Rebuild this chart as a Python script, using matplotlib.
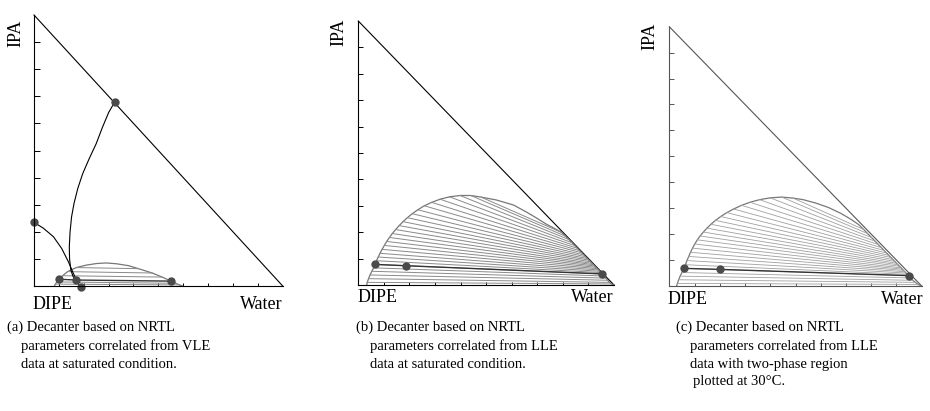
import numpy as np
import matplotlib
matplotlib.use('Agg')
import matplotlib.pyplot as plt

plt.rcParams['font.family'] = ['Liberation Serif', 'DejaVu Serif']

W, H = 930, 411

# ---- panel (a): NRTL from VLE data ----
a_bin_x = [0.082, 0.086, 0.092, 0.099, 0.115, 0.135, 0.170, 0.210, 0.252, 0.290,
           0.332, 0.380, 0.420, 0.475, 0.515, 0.551, 0.570, 0.585, 0.598]
a_bin_y = [0.000, 0.007, 0.015, 0.025, 0.038, 0.053, 0.068, 0.077, 0.083, 0.085,
           0.082, 0.075, 0.064, 0.048, 0.033, 0.018, 0.010, 0.004, 0.000]
a_tie_lx = [0.170, 0.135, 0.115, 0.092, 0.086]
a_tie_ly = [0.068, 0.053, 0.038, 0.015, 0.007]
a_tie_rx = [0.420, 0.475, 0.515, 0.570, 0.585]
a_tie_ry = [0.064, 0.048, 0.033, 0.010, 0.004]
a_curve1_x = [0.324, 0.300, 0.275, 0.250, 0.222, 0.196, 0.176, 0.161, 0.151, 0.145,
              0.142, 0.143, 0.148, 0.157, 0.170]
a_curve1_y = [0.678, 0.640, 0.585, 0.525, 0.470, 0.415, 0.360, 0.305, 0.255, 0.200,
              0.145, 0.100, 0.060, 0.035, 0.021]
a_curve2_x = [0.000, 0.038, 0.078, 0.111, 0.138, 0.158, 0.178, 0.189]
a_curve2_y = [0.235, 0.213, 0.182, 0.139, 0.090, 0.047, 0.010, -0.005]
a_dark_x = [0.099, 0.170, 0.551]
a_dark_y = [0.025, 0.022, 0.018]
a_pts_x = [0.324, 0.000, 0.099, 0.170, 0.551, 0.189]
a_pts_y = [0.678, 0.235, 0.025, 0.022, 0.018, -0.005]

# ---- panel (b): NRTL from LLE data ----
b_low_lx = [0.035, 0.040, 0.046, 0.053, 0.060]
b_low_ly = [0.010, 0.024, 0.038, 0.052, 0.065]
b_low_rx = [0.990, 0.982, 0.975, 0.968, 0.961]
b_low_ry = [0.004, 0.010, 0.018, 0.026, 0.034]
b_up_lx = [0.071, 0.078, 0.085, 0.093, 0.102, 0.111, 0.122, 0.133, 0.146, 0.160, 0.175,
           0.192, 0.211, 0.233, 0.258, 0.287, 0.320, 0.357, 0.398, 0.440, 0.480]
b_up_ly = [0.092, 0.106, 0.120, 0.135, 0.150, 0.165, 0.180, 0.195, 0.210, 0.225, 0.240,
           0.255, 0.270, 0.285, 0.300, 0.313, 0.325, 0.334, 0.339, 0.339, 0.333]
b_up_rx = [0.949, 0.944, 0.939, 0.934, 0.929, 0.924, 0.919, 0.914, 0.908, 0.902, 0.896,
           0.889, 0.882, 0.874, 0.866, 0.857, 0.847, 0.836, 0.824, 0.810, 0.795]
b_up_ry = [0.047, 0.052, 0.057, 0.062, 0.067, 0.072, 0.077, 0.082, 0.088, 0.094, 0.100,
           0.107, 0.114, 0.122, 0.130, 0.139, 0.149, 0.160, 0.172, 0.185, 0.199]
b_top_x = [0.540, 0.607, 0.660, 0.700, 0.736, 0.768]
b_top_y = [0.322, 0.303, 0.275, 0.252, 0.230, 0.214]
b_end_x = [0.033, 1.0]
b_dark_x = [0.065, 0.186, 0.954]
b_dark_y = [0.078, 0.073, 0.042]

# ---- panel (c): NRTL from LLE data, two-phase region at 30 C ----
c_low_lx = [0.032, 0.037, 0.043, 0.050]
c_low_ly = [0.010, 0.024, 0.038, 0.052]
c_low_rx = [0.985, 0.975, 0.965, 0.956]
c_low_ry = [0.006, 0.014, 0.022, 0.031]
c_up_lx = [0.064, 0.070, 0.077, 0.084, 0.092, 0.101, 0.111, 0.122, 0.135, 0.149, 0.165,
           0.183, 0.204, 0.228, 0.255, 0.286, 0.320, 0.358, 0.400, 0.445, 0.490]
c_up_ly = [0.082, 0.098, 0.114, 0.130, 0.146, 0.162, 0.178, 0.193, 0.208, 0.223, 0.238,
           0.253, 0.268, 0.283, 0.297, 0.311, 0.323, 0.333, 0.340, 0.343, 0.339]
c_up_rx = [0.943, 0.938, 0.933, 0.928, 0.923, 0.918, 0.912, 0.906, 0.900, 0.893, 0.886,
           0.878, 0.870, 0.861, 0.851, 0.840, 0.828, 0.815, 0.801, 0.786, 0.770]
c_up_ry = [0.045, 0.050, 0.055, 0.060, 0.065, 0.070, 0.076, 0.082, 0.088, 0.095, 0.102,
           0.110, 0.118, 0.127, 0.137, 0.148, 0.160, 0.173, 0.187, 0.202, 0.218]
c_top_x = [0.530, 0.580, 0.630, 0.680, 0.720, 0.750]
c_top_y = [0.333, 0.320, 0.303, 0.280, 0.257, 0.237]
c_end_x = [0.029, 1.0]
c_dark_x = [0.059, 0.201, 0.948]
c_dark_y = [0.068, 0.064, 0.040]

captions = [
    ["(a) Decanter based on NRTL", "parameters correlated from VLE", "data at saturated condition."],
    ["(b) Decanter based on NRTL", "parameters correlated from LLE", "data at saturated condition."],
    ["(c) Decanter based on NRTL", "parameters correlated from LLE", "data with two-phase region",
     "plotted at 30°C."],
]

fig = plt.figure(figsize=(W / 100, H / 100), dpi=100)


def frame(left, right, top, bottom, axcol, ltick):
    ax = fig.add_axes([left / W, 1 - bottom / H, (right - left) / W, (bottom - top) / H])
    ax.set_xlim(0, 1)
    ax.set_ylim(0, 1)
    ax.patch.set_alpha(0)
    for s in ['top', 'right']:
        ax.spines[s].set_visible(False)
    for s in ['left', 'bottom']:
        ax.spines[s].set_color(axcol)
        ax.spines[s].set_linewidth(0.8)
    ax.set_xticks(np.arange(1, 10) / 10)
    ax.set_yticks(np.arange(1, 10) / 10)
    ax.tick_params(axis='y', direction='in', length=ltick, width=0.7, color=axcol,
                   labelleft=False)
    ax.tick_params(axis='x', direction='in', length=2.2, width=0.7, color=axcol,
                   labelbottom=False)
    ax.plot([0, 1], [1, 0], color=axcol, lw=0.8, clip_on=False)
    return ax


def lle_panel(ax, low_lx, low_ly, low_rx, low_ry, up_lx, up_ly, up_rx, up_ry,
              top_x, top_y, end_x, dark_x, dark_y, tcol, tlw):
    lx = low_lx + dark_x[:1] + up_lx
    ly = low_ly + dark_y[:1] + up_ly
    rx = low_rx + dark_x[-1:] + up_rx
    ry = low_ry + dark_y[-1:] + up_ry
    bx = end_x[:1] + lx + top_x + rx[::-1] + end_x[1:]
    by = [0] + ly + top_y + ry[::-1] + [0]
    ax.plot(bx, by, color='#777777', lw=0.9, clip_on=False)
    for i in range(len(lx)):
        ax.plot([lx[i], rx[i]], [ly[i], ry[i]], color=tcol, lw=tlw, clip_on=False)
    ax.plot(dark_x, dark_y, color='#333333', lw=1.0, clip_on=False)
    ax.plot(dark_x, dark_y, 'o', color='#4a4a4a', ms=6, mec='none', clip_on=False)


# panel (a)
ax = frame(34, 282.7, 15, 286, 'black', 4.3)
ax.plot(a_bin_x, a_bin_y, color='#777777', lw=0.9, clip_on=False)
for i in range(len(a_tie_lx)):
    ax.plot([a_tie_lx[i], a_tie_rx[i]], [a_tie_ly[i], a_tie_ry[i]], color='#888888', lw=0.7)
ax.plot(a_dark_x, a_dark_y, color='#333333', lw=1.0, clip_on=False)
ax.plot(a_curve1_x, a_curve1_y, color='black', lw=0.8, clip_on=False)
ax.plot(a_curve2_x, a_curve2_y, color='black', lw=0.8, clip_on=False)
ax.plot(a_pts_x, a_pts_y, 'o', color='#4a4a4a', ms=6, mec='none', clip_on=False)

# panel (b)
ax = frame(358.3, 614, 21, 285, 'black', 3.8)
lle_panel(ax, b_low_lx, b_low_ly, b_low_rx, b_low_ry, b_up_lx, b_up_ly, b_up_rx, b_up_ry,
          b_top_x, b_top_y, b_end_x, b_dark_x, b_dark_y, '#8a8a8a', 0.7)

# panel (c)
ax = frame(669.3, 921.7, 26.7, 286, '#555555', 3.8)
lle_panel(ax, c_low_lx, c_low_ly, c_low_rx, c_low_ry, c_up_lx, c_up_ly, c_up_rx, c_up_ry,
          c_top_x, c_top_y, c_end_x, c_dark_x, c_dark_y, '#a0a0a0', 0.6)


def px_text(x, y, s, **kw):
    fig.text(x / W, 1 - y / H, s, **kw)


# vertex labels
for xl, xr, ytop, ipa_x, ipa_y in [(33, 283, 296, 16, 33), (358, 614, 289, 339, 32),
                                   (668, 924, 291, 650, 36)]:
    px_text(xl, ytop, 'DIPE', fontsize=13, ha='left', va='top')
    px_text(xr, ytop, 'Water', fontsize=13, ha='right', va='top')
    px_text(ipa_x, ipa_y, 'IPA', fontsize=13, ha='center', va='center', rotation=90)

# captions
line_y = [327, 346, 364, 381]
for x0, lines in zip([7, 356, 676], captions):
    for j, s in enumerate(lines):
        xs = x0 if j == 0 else x0 + 14
        if j == 3:
            xs += 3
        px_text(xs, line_y[j], s, fontsize=10.5, ha='left', va='center')

fig.savefig('out.png', dpi=100)
